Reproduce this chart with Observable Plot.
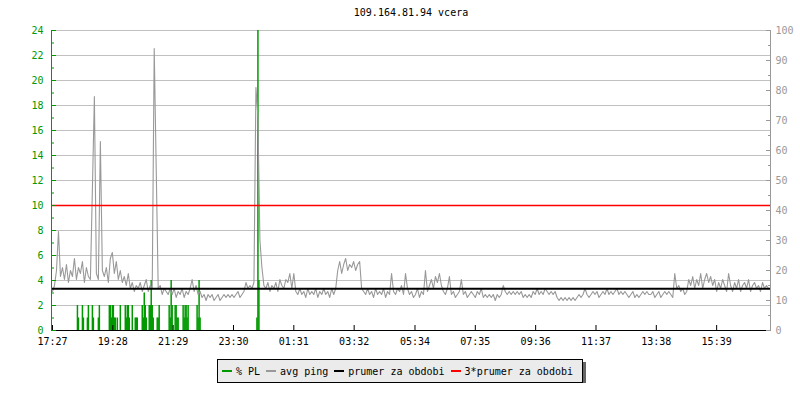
<!DOCTYPE html>
<html><head><meta charset="utf-8">
<script src="https://cdn.jsdelivr.net/npm/d3@7"></script>
<script src="https://cdn.jsdelivr.net/npm/@observablehq/plot@0.6"></script>
<style>
body{margin:0;background:#fff;font-family:"DejaVu Sans Mono",monospace;font-size:10px;color:#000;}
#title{margin-left:52px;width:718px;text-align:center;height:18px;line-height:18px;padding-top:4px;}
#chart svg{display:block;}
#legend{display:inline-flex;align-items:center;margin:7px 0 0 217px;height:22px;border:1px solid #000;background:#ebebeb;box-shadow:3px 3px 0 #666;padding:0 9px 0 4px;}
#legend .item{display:flex;align-items:center;margin-right:6px;white-space:pre;}
#legend .item:last-child{margin-right:0;}
#legend i{display:inline-block;width:10px;height:2px;margin-right:4px;}
</style></head><body>
<div id="title">109.164.81.94 vcera</div>
<div id="chart"></div>
<div id="legend"></div>
<script>
// ---- data ----
const startLabel = "17:27";
const tickLabels = ["17:27","19:28","21:29","23:30","01:31","03:32","05:34","07:35","09:36","11:37","13:38","15:39"];
const leftTicks = [0,2,4,6,8,10,12,14,16,18,20,22,24];
const leftMinor = [1,3,5,7,9,11,13,15,17,19,21,23];
const rightTicks = [0,10,20,30,40,50,60,70,80,90,100];
const rightMinor = [5,15,25,35,45,55,65,75,85,95];
const pingStepMinutes = 4;
const pingMs = [
 13,15,20,33,18,21,17,22,16,20,18,24,17,21,19,23,16,21,18,17,47,78,19,17,63,20,18,21,16,24,
 26,19,23,17,20,16,18,15,19,14,16,13,15,14,16,13,15,17,13,15,14,94,54,14,15,12,14,13,12,14,
 12,14,11,13,12,14,11,13,12,14,17,13,15,12,13,11,12,10,12,11,12,10,11,12,10,11,12,11,12,11,
 12,11,12,13,11,12,13,16,14,15,14,16,81,71,30,21,15,14,16,13,15,14,16,13,17,15,14,17,16,19,
 14,19,13,12,14,12,13,11,14,12,13,12,14,11,13,12,14,12,13,11,14,12,14,20,23,19,22,24,20,22,
 21,23,20,22,23,14,13,12,14,12,13,11,14,12,13,12,14,11,13,12,19,13,12,14,13,15,12,19,14,12,
 13,11,12,14,11,13,12,20,13,15,17,14,18,16,19,15,13,12,14,18,12,13,11,12,13,17,12,13,11,12,
 13,12,11,13,12,14,11,12,11,12,11,12,10,12,11,12,15,13,12,13,12,13,12,13,12,13,11,12,11,12,
 11,13,12,14,12,13,12,14,13,12,13,12,13,11,10,11,10,11,10,11,10,11,10,11,12,11,12,14,12,11,
 12,13,12,13,11,12,13,12,14,12,13,12,13,14,12,13,12,13,12,11,12,13,11,12,11,12,13,12,13,12,
 12,13,11,12,13,11,12,13,12,13,12,11,19,14,15,13,14,12,13,17,15,18,14,17,15,19,14,17,19,16,
 18,15,17,13,16,14,17,15,13,19,15,13,16,14,17,13,15,16,14,17,13,15,16,14,15,13,16,14,15,14
];
const plMinutes = [50,52,60,62,70,72,80,82,92,94,114,116,118,120,122,124,126,130,136,146,148,150,152,154,160,166,168,170,180,182,184,186,188,194,196,198,200,202,210,212,214,234,236,238,240,246,248,250,252,262,264,266,268,270,272,290,292,294,296,410,412,414];
const plPercent = [2,1,2,1,1,2,2,1,1,2,2,2,1,2,2,1,1,1,2,2,1,2,2,1,2,1,1,1,2,1,3,2,1,2,2,4,2,1,1,1,2,2,1,4,2,2,2,1,1,2,1,2,2,1,2,2,1,4,1,1,24,4];
const avgPing = 13.9;
const seriesNames = ["% PL","avg ping","prumer za obdobi","3*prumer za obdobi"];
const seriesColors = ["#009900","#999999","#000000","#ff0000"];

// ---- build ----
const k = 24/100; // ping ms -> left axis units
const green = seriesColors[0], gray = seriesColors[1];
const toMin = s => { const [h,m] = s.split(":").map(Number); return h*60+m; };
const start = toMin(startLabel);
const tickMin = tickLabels.map(s => ((toMin(s) - start) % 1440 + 1440) % 1440);
const labelOf = new Map(tickMin.map((m,i)=>[m, tickLabels[i]]));
const pingData = pingMs.map((p,i)=>({m:i*pingStepMinutes, p}));
const plData = plMinutes.map((m,i)=>({m, v:plPercent[i]}));
const none = () => "";

const chart = Plot.plot({
  width:800, height:330, marginLeft:52, marginRight:30, marginTop:8, marginBottom:22,
  x:{domain:[0,1440], label:null},
  y:{domain:[0,24], label:null},
  style:{fontFamily:"DejaVu Sans Mono", fontSize:"10px", background:"white", overflow:"visible"},
  marks:[
    Plot.ruleY(leftTicks.filter(v=>v>0), {stroke:"#c0c0c0"}),
    Plot.ruleX(plData, {x:"m", y1:0, y2:"v", stroke:green, strokeWidth:1.5}),
    Plot.line(pingData, {x:"m", y:d=>d.p*k, stroke:gray, strokeWidth:1.1}),
    Plot.ruleY([avgPing*k], {stroke:seriesColors[2], strokeWidth:2}),
    Plot.ruleY([3*avgPing*k], {stroke:seriesColors[3], strokeWidth:1.5}),
    Plot.ruleY([0], {stroke:"black", strokeWidth:1}),
    Plot.ruleX([0], {stroke:green, dx:-1}),
    Plot.ruleX([1440], {stroke:gray}),
    Plot.axisY({anchor:"left", ticks:leftTicks, tickSize:5, dx:4, stroke:green, tickFormat:none, label:null}),
    Plot.axisY({anchor:"left", ticks:leftMinor, tickSize:3, dx:2, stroke:green, tickFormat:none, label:null}),
    Plot.axisY({anchor:"left", ticks:leftTicks, tickSize:0, tickPadding:9, fill:green, label:null, tickFormat:d=>String(d)}),
    Plot.axisY({anchor:"right", ticks:rightTicks.map(v=>v*k), tickSize:5, dx:-5, stroke:gray, tickFormat:none, label:null}),
    Plot.axisY({anchor:"right", ticks:rightMinor.map(v=>v*k), tickSize:3, dx:-3, stroke:gray, tickFormat:none, label:null}),
    Plot.axisY({anchor:"right", ticks:rightTicks.map(v=>v*k), tickSize:0, tickPadding:5, fill:gray, label:null, tickFormat:d=>String(Math.round(d/k))}),
    Plot.axisX({anchor:"bottom", ticks:tickMin, tickSize:5, dy:-5, stroke:"black", tickFormat:none, label:null}),
    Plot.axisX({anchor:"bottom", ticks:tickMin, tickSize:0, tickPadding:7, fill:"black", label:null, tickFormat:m=>labelOf.get(m)})
  ]
});
document.getElementById("chart").appendChild(chart);

const legend = document.getElementById("legend");
seriesNames.forEach((name,i)=>{
  const it = document.createElement("span");
  it.className = "item";
  const sw = document.createElement("i");
  sw.style.background = seriesColors[i];
  it.appendChild(sw);
  it.appendChild(document.createTextNode(name));
  legend.appendChild(it);
});
</script>
</body></html>
